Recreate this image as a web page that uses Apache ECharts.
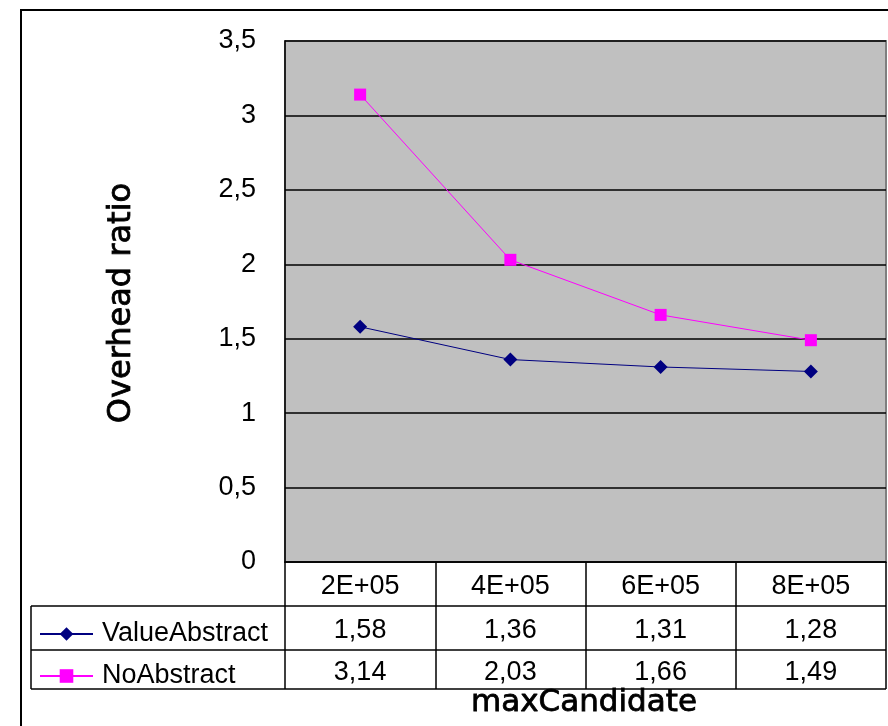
<!DOCTYPE html>
<html>
<head>
<meta charset="utf-8">
<script src="https://cdn.jsdelivr.net/npm/echarts@6/dist/echarts.min.js"></script>
<style>
  html, body { margin: 0; padding: 0; background: #fff; }
  #chart { width: 888px; height: 726px; }
</style>
</head>
<body>
<div id="chart"></div>
<script>
// maxCandidate settings along the x axis
const categories = ['2E+05', '4E+05', '6E+05', '8E+05'];
// overhead ratio per setting
const valueAbstract = [1.58, 1.36, 1.31, 1.28];
const noAbstract = [3.14, 2.03, 1.66, 1.49];
// y axis range
const yMin = 0;
const yMax = 3.5;
const yStep = 0.5;

const FONT = '"Liberation Sans", Arial, sans-serif';
const TITLE_FONT = '"DejaVu Sans", sans-serif';

// plot and data-table geometry
const PLOT_LEFT = 285, PLOT_TOP = 41, PLOT_RIGHT = 886, PLOT_BOTTOM = 562;
const TABLE_LEFT = 31;
const ROW_LINES = [606, 650, 689];

const comma = v => String(v).replace('.', ',');
const fmt2 = v => v.toFixed(2).replace('.', ',');

const chart = echarts.init(document.getElementById('chart'), null, { renderer: 'canvas' });

const titleStyle = (text, size) => ({
  text, font: size + 'px ' + TITLE_FONT, fill: '#000', stroke: '#000', lineWidth: 0.8,
  align: 'center', verticalAlign: 'middle'
});

const graphics = [
  // outer chart frame (left and top edges)
  { type: 'polyline', shape: { points: [[21, 726], [21, 10], [888, 10]] },
    style: { stroke: '#000', lineWidth: 2, fill: null } },
  // left border of the legend column of the data table
  { type: 'line', shape: { x1: TABLE_LEFT, y1: ROW_LINES[0], x2: TABLE_LEFT, y2: ROW_LINES[2] },
    style: { stroke: '#000', lineWidth: 1.5 } },
  // axis titles
  { type: 'text', x: 122, y: 303, rotation: Math.PI / 2, style: titleStyle('Overhead ratio', 32) },
  { type: 'text', x: 584, y: 703, style: titleStyle('maxCandidate', 31) }
];
ROW_LINES.forEach(y => graphics.push({
  type: 'line', shape: { x1: TABLE_LEFT, y1: y, x2: PLOT_RIGHT, y2: y },
  style: { stroke: '#000', lineWidth: 1.5 }
}));

chart.setOption({
  animation: false,
  backgroundColor: '#fff',
  grid: {
    left: PLOT_LEFT, top: PLOT_TOP, right: 888 - PLOT_RIGHT, bottom: 726 - PLOT_BOTTOM,
    show: true, backgroundColor: '#c0c0c0', borderColor: '#7f7f7f', borderWidth: 2
  },
  legend: {
    data: ['ValueAbstract', 'NoAbstract'],
    orient: 'vertical', left: 39, top: 620, padding: 0,
    itemWidth: 53, itemHeight: 17, itemGap: 14,
    textStyle: { fontSize: 27, lineHeight: 28, color: '#000', fontFamily: FONT, padding: [0, 0, 0, 4] }
  },
  xAxis: {
    type: 'category',
    data: categories,
    boundaryGap: true,
    axisLine: { lineStyle: { color: '#000', width: 1.5 } },
    axisTick: { show: true, interval: 0, length: ROW_LINES[2] - PLOT_BOTTOM, lineStyle: { color: '#000', width: 1.5 } },
    splitLine: { show: false },
    axisLabel: {
      interval: 0, margin: 2, color: '#000',
      formatter: (val, i) => `{h|${val}}\n{v|${fmt2(valueAbstract[i])}}\n{v|${fmt2(noAbstract[i])}}`,
      rich: {
        h: { fontSize: 27, lineHeight: 46, fontFamily: FONT, color: '#000' },
        v: { fontSize: 27, lineHeight: 42, fontFamily: FONT, color: '#000' }
      }
    }
  },
  yAxis: {
    type: 'value',
    min: yMin, max: yMax, interval: yStep,
    axisLine: { show: true, lineStyle: { color: '#000', width: 1.5 } },
    axisTick: { show: false },
    splitLine: { show: true, lineStyle: { color: '#000', width: 1.5 } },
    axisLabel: { margin: 29, fontSize: 27, color: '#000', fontFamily: FONT, formatter: v => comma(v) }
  },
  series: [
    {
      name: 'ValueAbstract', type: 'line', data: valueAbstract,
      symbol: 'diamond', symbolSize: 14,
      lineStyle: { color: '#000080', width: 1 },
      itemStyle: { color: '#000080' }
    },
    {
      name: 'NoAbstract', type: 'line', data: noAbstract,
      symbol: 'rect', symbolSize: 12,
      lineStyle: { color: '#ff00ff', width: 1 },
      itemStyle: { color: '#ff00ff' }
    }
  ],
  graphic: graphics
});
</script>
</body>
</html>
